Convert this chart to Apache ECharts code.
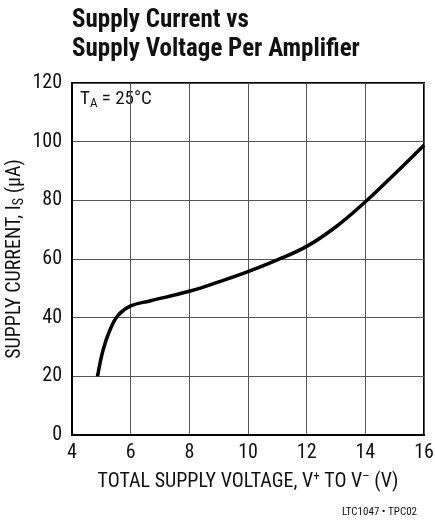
<!DOCTYPE html>
<html>
<head>
<meta charset="utf-8">
<script src="https://cdn.jsdelivr.net/npm/echarts@6/dist/echarts.min.js"></script>
<style>
  html, body { margin: 0; padding: 0; background: #fff; }
  #chart { width: 435px; height: 520px; }
</style>
</head>
<body>
<div id="chart"></div>
<script>
// supply voltage (V) vs supply current (uA)
const voltage = [4.87, 5.06, 5.29, 5.57, 6.0, 6.65, 8.0, 9.0, 10.0, 11.0, 12.0, 13.0, 14.0, 15.0, 16.0];
const current = [20, 29, 35.7, 40.8, 44, 45.7, 49, 52.2, 55.7, 59.7, 64.3, 71, 79.5, 89, 98.8];
const xTicks = [4, 6, 8, 10, 12, 14, 16];
const yTicks = [0, 20, 40, 60, 80, 100, 120];

const FONT = '"Liberation Sans Narrow", "Roboto Condensed", "Liberation Sans", sans-serif';

const chart = echarts.init(document.getElementById('chart'));

chart.setOption({
  animation: false,
  backgroundColor: '#fff',
  title: {
    text: 'Supply Current vs\nSupply Voltage Per Amplifier',
    left: 67,
    top: 1,
    textStyle: {
      fontFamily: FONT,
      fontWeight: 'bold',
      fontSize: 25,
      lineHeight: 29,
      color: '#111'
    }
  },
  grid: {
    left: 72,
    right: 11,
    top: 83,
    bottom: 85,
    outerBoundsMode: 'none',
    containLabel: false,
    show: true,
    borderColor: '#000',
    borderWidth: 2
  },
  xAxis: {
    type: 'value',
    min: xTicks[0],
    max: xTicks[xTicks.length - 1],
    interval: 2,
    name: 'TOTAL SUPPLY VOLTAGE, V{sup|+} TO V{sup|\u2013} (V)',
    nameLocation: 'middle',
    nameGap: 35,
    nameMoveOverlap: false,
    nameTextStyle: {
      fontFamily: FONT,
      fontSize: 20,
      color: '#111',
      rich: {
        sup: { fontFamily: FONT, fontSize: 13, padding: [0, 0, 10, 0], color: '#111' }
      }
    },
    axisLine: { show: true, lineStyle: { color: '#000', width: 2 } },
    axisTick: { show: false },
    axisLabel: { fontFamily: FONT, fontSize: 20, color: '#111', margin: 8 },
    splitLine: { show: true, lineStyle: { color: '#555', width: 1 } }
  },
  yAxis: {
    type: 'value',
    min: yTicks[0],
    max: yTicks[yTicks.length - 1],
    interval: 20,
    name: 'SUPPLY CURRENT, I{sub|S} (\u03bcA)',
    nameLocation: 'middle',
    nameGap: 46,
    nameMoveOverlap: false,
    nameTextStyle: {
      fontFamily: FONT,
      fontSize: 20,
      color: '#111',
      rich: {
        sub: { fontFamily: FONT, fontSize: 14, padding: [9, 0, 0, 0], color: '#111' }
      }
    },
    axisLine: { show: true, lineStyle: { color: '#000', width: 2 } },
    axisTick: { show: false },
    axisLabel: { fontFamily: FONT, fontSize: 20, color: '#111', margin: 10 },
    splitLine: { show: true, lineStyle: { color: '#555', width: 1 } }
  },
  graphic: [
    {
      type: 'text',
      left: 80,
      top: 90,
      style: {
        text: 'T{sub|A} = 25°C',
        font: '19px ' + FONT,
        fill: '#111',
        rich: {
          sub: { fontFamily: FONT, fontSize: 13, padding: [9, 0, 0, 0], fill: '#111' }
        }
      }
    },
    {
      type: 'text',
      right: 18,
      top: 507,
      style: {
        text: 'LTC1047 • TPC02',
        font: '11px ' + FONT,
        fill: '#111'
      }
    }
  ],
  series: [
    {
      type: 'line',
      data: voltage.map((v, i) => [v, current[i]]),
      smooth: 0.4,
      showSymbol: false,
      lineStyle: { color: '#000', width: 3.5 },
      z: 5
    }
  ]
});
</script>
</body>
</html>
